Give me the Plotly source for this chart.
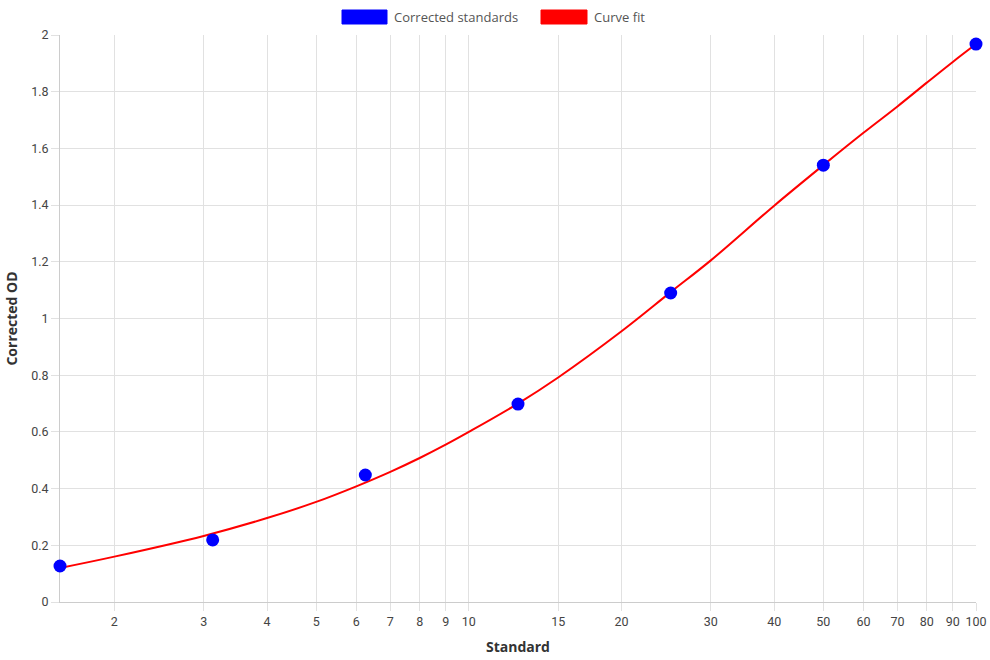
import plotly.graph_objects as go

# Data
std_x = [1.5625, 3.125, 6.25, 12.5, 25, 50, 100]
std_od = [0.127, 0.219, 0.448, 0.698, 1.09, 1.541, 1.968]

fit_x = [1.5625, 2, 3, 4, 5, 6, 7, 8, 9, 10, 12.5, 15, 20, 25, 30, 40, 50, 60, 70, 80, 90, 100]
fit_od = [0.12, 0.16, 0.233, 0.296, 0.353, 0.408, 0.459, 0.508, 0.555, 0.60, 0.70, 0.792,
          0.955, 1.093, 1.205, 1.398, 1.541, 1.655, 1.748, 1.832, 1.905, 1.968]

x_ticks = [2, 3, 4, 5, 6, 7, 8, 9, 10, 15, 20, 30, 40, 50, 60, 70, 80, 90, 100]
y_ticks = [0, 0.2, 0.4, 0.6, 0.8, 1, 1.2, 1.4, 1.6, 1.8, 2]
y_labels = ["0", "0.2", "0.4", "0.6", "0.8", "1", "1.2", "1.4", "1.6", "1.8", "2"]

grid = "#e1e1e1"
tickfont = dict(family="Roboto, Liberation Sans, sans-serif", size=12.5, color="#444")
titlefont = dict(family="Open Sans, sans-serif", size=14, color="#333")

fig = go.Figure()
fig.add_trace(go.Scatter(x=fit_x, y=fit_od, mode="lines", name="Curve fit",
                         line=dict(color="red", width=2, shape="spline", smoothing=1.0),
                         showlegend=False, cliponaxis=False))
fig.add_trace(go.Scatter(x=std_x, y=std_od, mode="markers", name="Corrected standards",
                         marker=dict(color="blue", size=13), showlegend=False, cliponaxis=False))

fig.update_layout(
    width=990, height=660,
    margin=dict(l=60, r=14, t=35, b=58),
    paper_bgcolor="white", plot_bgcolor="white",
    xaxis=dict(type="log", range=[0.19382, 2.0], tickvals=x_ticks,
               ticktext=[str(v) for v in x_ticks], tickfont=tickfont,
               showgrid=True, gridcolor=grid, gridwidth=1, automargin=False,
               ticks="outside", ticklen=8, tickcolor=grid, layer="below traces",
               showline=True, linecolor="#cccccc", linewidth=1, zeroline=False,
               title=dict(text="<b>Standard</b>", font=titlefont, standoff=14)),
    yaxis=dict(range=[0, 2], tickvals=y_ticks, ticktext=y_labels,
               tickfont=tickfont, showgrid=True, gridcolor=grid, gridwidth=1, automargin=False,
               ticks="outside", ticklen=8, tickcolor=grid, layer="below traces",
               showline=True, linecolor="#cccccc", linewidth=1, zeroline=False,
               title=dict(text="<b>Corrected OD</b>", font=titlefont, standoff=10)),
    showlegend=False,
)

# Legend drawn with shapes/annotations (Chart.js style boxes)
legend_items = [("Corrected standards", "blue", 342, 387), ("Curve fit", "red", 541, 587)]
for label, color, x0, x1 in legend_items:
    fig.add_shape(type="rect", xref="paper", yref="paper",
                  x0=(x0 - 60) / 916, x1=(x1 - 60) / 916,
                  y0=(602 - 24) / 567, y1=(602 - 10) / 567,
                  fillcolor=color, line=dict(color=color, width=1))
    fig.add_annotation(xref="paper", yref="paper", x=(x1 + 5 - 60) / 916, y=(602 - 17) / 567,
                       text=label, showarrow=False, xanchor="left", yanchor="middle",
                       font=dict(family="Open Sans, sans-serif", size=13, color="#555"))

fig.write_html("out.html")
